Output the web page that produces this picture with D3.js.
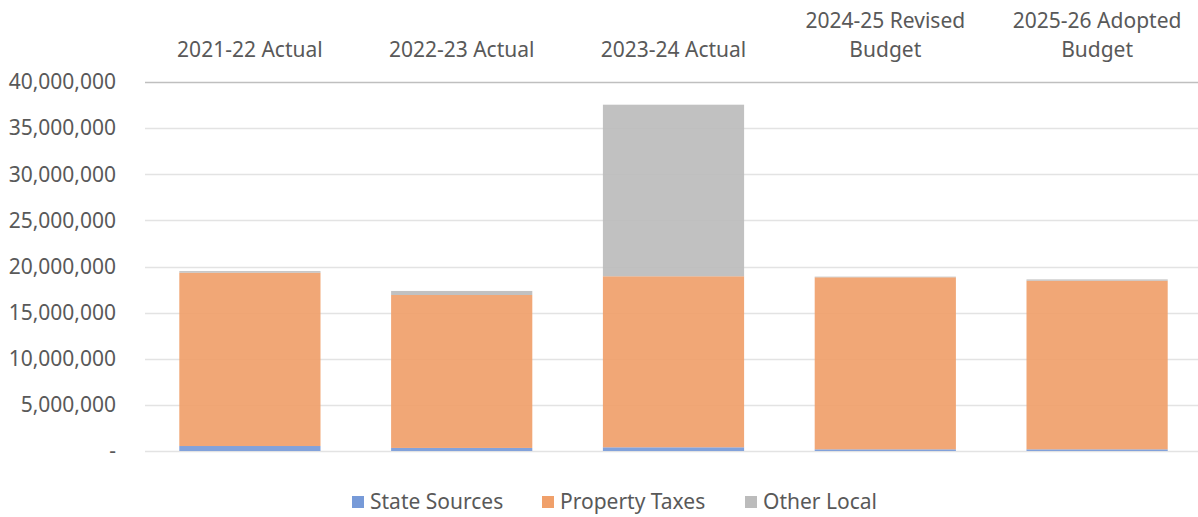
<!DOCTYPE html>
<html>
<head>
<meta charset="utf-8">
<title>Revenue by Source</title>
<style>
    body { margin: 0; background: #fff; }
    text { font-family: "Source Sans Pro", "Noto Sans", sans-serif; fill: #595959; }
</style>
</head>
<body>
<script src="https://cdnjs.cloudflare.com/ajax/libs/d3/7.8.5/d3.min.js"></script>
<script>
    // Chart data
    const categories = ["2021-22 Actual", "2022-23 Actual", "2023-24 Actual", "2024-25 Revised Budget", "2025-26 Adopted Budget"];
    const categoryLines = [["2021-22 Actual"], ["2022-23 Actual"], ["2023-24 Actual"], ["2024-25 Revised", "Budget"], ["2025-26 Adopted", "Budget"]];
    const stateSources = [540000, 330000, 400000, 180000, 180000];
    const propertyTaxes = [18790000, 16580000, 18540000, 18650000, 18280000];
    const otherLocal = [170000, 440000, 18600000, 70000, 140000];
    const seriesNames = ["State Sources", "Property Taxes", "Other Local"];
    const seriesColors = ["#779ad8", "#f0a06a", "#bcbcbc"];
    const yTicks = [0, 5000000, 10000000, 15000000, 20000000, 25000000, 30000000, 35000000, 40000000];

    const width = 1198, height = 517;
    const margin = {top: 82, bottom: 66, left: 145};
    const plotRight = 1203; // last band runs a little past the edge

    const svg = d3.select("body").append("svg")
        .attr("width", width)
        .attr("height", height);

    const x = d3.scaleBand()
        .domain(categories)
        .range([144, plotRight])
        .paddingInner(1 / 3)
        .paddingOuter(1 / 6);

    const y = d3.scaleLinear()
        .domain([0, 40000000])
        .range([height - margin.bottom, margin.top]);

    // gridlines
    svg.append("g")
        .selectAll("line")
        .data(yTicks)
        .join("line")
        .attr("x1", margin.left)
        .attr("x2", width)
        .attr("y1", d => Math.round(y(d)) + 0.5)
        .attr("y2", d => Math.round(y(d)) + 0.5)
        .attr("stroke", d => d === 40000000 ? "#bfbfbf" : "#e3e3e3")
        .attr("stroke-width", 1.5);

    // y labels
    const fmt = d3.format(",");
    svg.append("g")
        .selectAll("text")
        .data(yTicks)
        .join("text")
        .attr("x", 116)
        .attr("y", d => y(d))
        .attr("dy", "0.35em")
        .attr("text-anchor", "end")
        .attr("font-size", 21)
        .text(d => d === 0 ? "-" : fmt(d));

    // stacked bars
    const rows = categories.map((c, i) => ({
        cat: c,
        s0: stateSources[i],
        s1: propertyTaxes[i],
        s2: otherLocal[i]
    }));
    const layers = d3.stack().keys(["s0", "s1", "s2"])(rows);

    svg.append("g")
        .selectAll("g")
        .data(layers)
        .join("g")
        .attr("fill", (d, i) => seriesColors[i])
        .attr("fill-opacity", 0.92)
        .selectAll("rect")
        .data(d => d)
        .join("rect")
        .attr("x", d => x(d.data.cat))
        .attr("width", x.bandwidth())
        .attr("y", d => y(d[1]))
        .attr("height", d => y(d[0]) - y(d[1]));

    // category labels at top
    svg.append("g")
        .selectAll("text")
        .data(categories)
        .join("text")
        .attr("text-anchor", "middle")
        .attr("font-size", 21)
        .each(function (d, i) {
            const lines = categoryLines[i];
            lines.forEach((ln, j) => {
                d3.select(this).append("tspan")
                    .attr("x", x(d) + x.bandwidth() / 2)
                    .attr("y", 57 - (lines.length - 1 - j) * 29)
                    .text(ln);
            });
        });

    // legend
    const legendX = [352, 542, 745];
    const legend = svg.append("g")
        .selectAll("g")
        .data(seriesNames)
        .join("g")
        .attr("transform", (d, i) => `translate(${legendX[i]},502)`);
    legend.append("rect")
        .attr("y", -6)
        .attr("width", 12)
        .attr("height", 12)
        .attr("fill", (d, i) => seriesColors[i]);
    legend.append("text")
        .attr("x", 18)
        .attr("dy", "0.35em")
        .attr("font-size", 21)
        .text(d => d);
</script>
</body>
</html>
